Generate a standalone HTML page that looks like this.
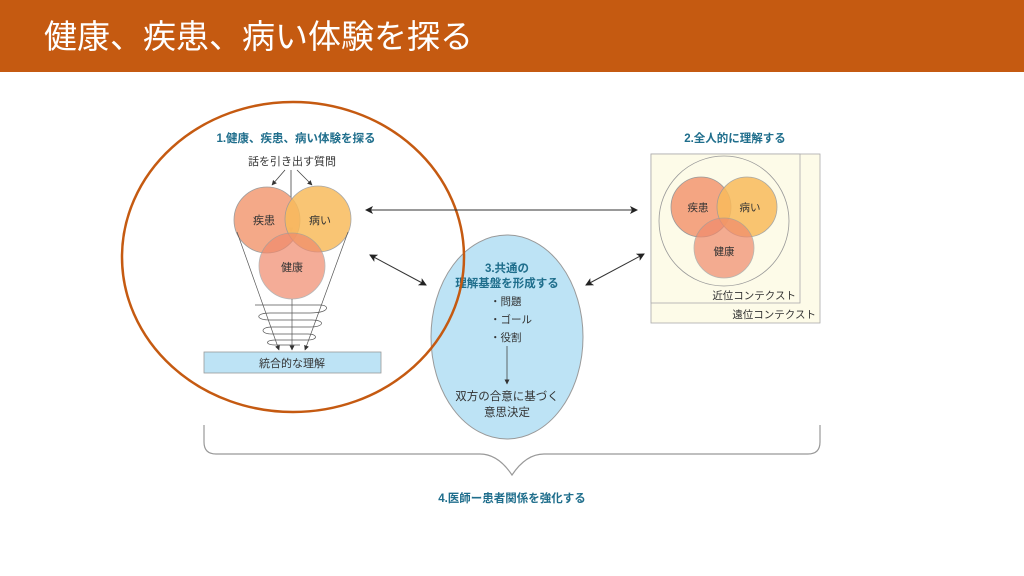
<!DOCTYPE html>
<html><head><meta charset="utf-8"><style>
html,body{margin:0;padding:0;background:#fff;}
svg{display:block;}
text{font-family:"Liberation Sans","Noto Sans CJK JP",sans-serif;}
</style></head><body>
<svg width="1024" height="576" viewBox="0 0 1024 576" xmlns="http://www.w3.org/2000/svg">
<defs>
<marker id="ah" markerWidth="8" markerHeight="8" refX="7" refY="4" orient="auto-start-reverse" markerUnits="userSpaceOnUse"><path d="M0,0 L8,4 L0,8 L2,4 z" fill="#222"/></marker>
<marker id="as" markerWidth="5" markerHeight="5" refX="4.5" refY="2.5" orient="auto" markerUnits="userSpaceOnUse"><path d="M0,0 L5,2.5 L0,5 z" fill="#333"/></marker>
</defs>
<rect x="0" y="0" width="1024" height="72" fill="#C55A11"/>
<text x="44" y="48" font-size="33" fill="#fff">健康、疾患、病い体験を探る</text>

<text x="296" y="142" font-size="11.5" fill="#1f6e8c" text-anchor="middle" font-weight="bold">1.健康、疾患、病い体験を探る</text>
<text x="292" y="165" font-size="11" fill="#333" text-anchor="middle">話を引き出す質問</text>
<g stroke="#444" stroke-width="0.8" fill="none">
<line x1="285" y1="170" x2="272" y2="185" marker-end="url(#as)"/>
<line x1="297" y1="170" x2="312" y2="185" marker-end="url(#as)"/>
<line x1="291" y1="170" x2="291" y2="232" marker-end="url(#as)"/>
</g>
<circle cx="267" cy="220" r="33" fill="#f4a582" stroke="#999" stroke-width="0.8" opacity="0.95"/>
<circle cx="318" cy="219" r="33" fill="#f9bb5c" stroke="#999" stroke-width="0.8" opacity="0.85"/>
<circle cx="292" cy="266" r="33" fill="#f08a6c" stroke="#999" stroke-width="0.8" opacity="0.7"/>
<text x="264" y="224" font-size="11" fill="#333" text-anchor="middle">疾患</text>
<text x="320" y="224" font-size="11" fill="#333" text-anchor="middle">病い</text>
<text x="292" y="271" font-size="11" fill="#333" text-anchor="middle">健康</text>
<g stroke="#555" stroke-width="0.7" fill="none">
<line x1="237" y1="232" x2="279" y2="350" marker-end="url(#as)"/>
<line x1="348" y1="232" x2="305" y2="350" marker-end="url(#as)"/>
<line x1="292" y1="299" x2="292" y2="350" marker-end="url(#as)"/>
<path d="M320,305 C330,305 330,313 310,313 L270,313 C255,313 255,320 270,320 L312,320 C325,320 325,327 310,327 L272,327 C260,327 260,334 272,334 L308,334 C318,334 318,340 308,340 L275,340 C265,340 265,345 275,345 L300,345"/>
<path d="M255,305 L320,305"/>
</g>
<rect x="204" y="352" width="177" height="21" fill="#bde3f5" stroke="#999" stroke-width="0.8"/>
<text x="292" y="367" font-size="11" fill="#333" text-anchor="middle">統合的な理解</text>

<ellipse cx="507" cy="337" rx="76" ry="102" fill="#bde3f5" stroke="#999" stroke-width="1"/>
<text x="507" y="272" font-size="11.5" fill="#1f6e8c" text-anchor="middle" font-weight="bold">3.共通の</text>
<text x="507" y="287" font-size="11.5" fill="#1f6e8c" text-anchor="middle" font-weight="bold">理解基盤を形成する</text>
<text x="490" y="305" font-size="10.5" fill="#333">・問題</text>
<text x="490" y="323" font-size="10.5" fill="#333">・ゴール</text>
<text x="490" y="341" font-size="10.5" fill="#333">・役割</text>
<line x1="507" y1="346" x2="507" y2="384" stroke="#444" stroke-width="0.8" marker-end="url(#as)"/>
<text x="507" y="400" font-size="11.5" fill="#333" text-anchor="middle">双方の合意に基づく</text>
<text x="507" y="416" font-size="11.5" fill="#333" text-anchor="middle">意思決定</text>

<ellipse cx="293" cy="257" rx="171" ry="155" fill="none" stroke="#C55A11" stroke-width="2.5"/>

<g stroke="#333" stroke-width="1" fill="none">
<line x1="366" y1="210" x2="637" y2="210" marker-start="url(#ah)" marker-end="url(#ah)"/>
<line x1="370" y1="255" x2="426" y2="285" marker-start="url(#ah)" marker-end="url(#ah)"/>
<line x1="586" y1="285" x2="644" y2="254" marker-start="url(#ah)" marker-end="url(#ah)"/>
</g>

<text x="735" y="142" font-size="11.5" fill="#1f6e8c" text-anchor="middle" font-weight="bold">2.全人的に理解する</text>
<rect x="651" y="154" width="169" height="169" fill="#fdfbe8" stroke="#aaa" stroke-width="0.8"/>
<rect x="651" y="154" width="149" height="149" fill="#fdfbe8" stroke="#aaa" stroke-width="0.8"/>
<circle cx="724" cy="221" r="65" fill="#fdfbe8" stroke="#999" stroke-width="0.8"/>
<circle cx="701" cy="207" r="30" fill="#f4a582" stroke="#999" stroke-width="0.8"/>
<circle cx="747" cy="207" r="30" fill="#f9bb5c" stroke="#999" stroke-width="0.8" opacity="0.85"/>
<circle cx="724" cy="248" r="30" fill="#f08a6c" stroke="#999" stroke-width="0.8" opacity="0.7"/>
<text x="698" y="211" font-size="10.5" fill="#333" text-anchor="middle">疾患</text>
<text x="750" y="211" font-size="10.5" fill="#333" text-anchor="middle">病い</text>
<text x="724" y="255" font-size="10.5" fill="#333" text-anchor="middle">健康</text>
<text x="796" y="299" font-size="10.5" fill="#333" text-anchor="end">近位コンテクスト</text>
<text x="816" y="318" font-size="10.5" fill="#333" text-anchor="end">遠位コンテクスト</text>

<path d="M204,425 L204,442 Q204,454 216,454 L480,454 Q498,454 512,475 Q526,454 544,454 L808,454 Q820,454 820,442 L820,425" fill="none" stroke="#999" stroke-width="1.2"/>
<text x="512" y="502" font-size="11.5" fill="#1f6e8c" text-anchor="middle" font-weight="bold">4.医師ー患者関係を強化する</text>
</svg>
</body></html>
